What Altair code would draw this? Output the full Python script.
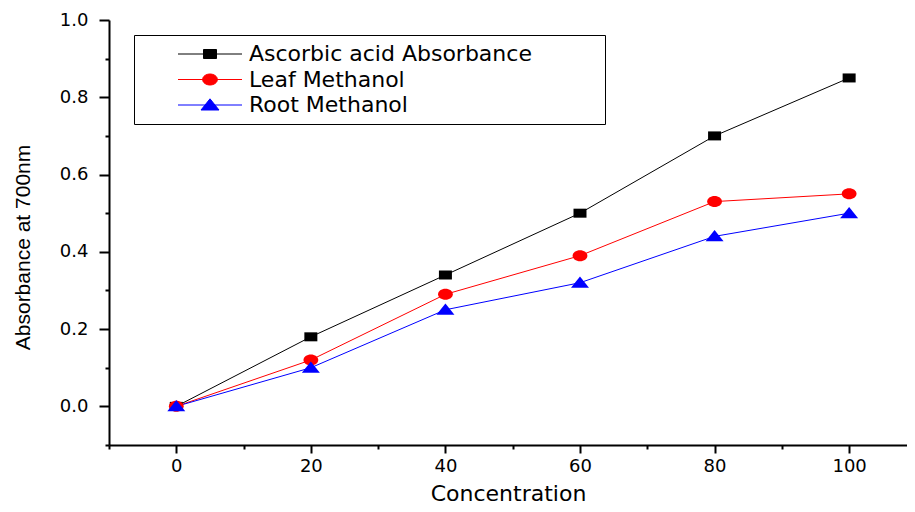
import altair as alt
import pandas as pd

concentration = [0, 20, 40, 60, 80, 100]
ascorbic = [0.0, 0.18, 0.34, 0.50, 0.70, 0.85]
leaf = [0.0, 0.12, 0.29, 0.39, 0.53, 0.55]
root = [0.0, 0.10, 0.25, 0.32, 0.44, 0.50]
series_names = ["Ascorbic acid Absorbance", "Leaf Methanol", "Root Methanol"]
series_colors = ["#000000", "#ff0000", "#0000ff"]
x_ticks = [-10, 0, 10, 20, 30, 40, 50, 60, 70, 80, 90, 100]
y_ticks = [-0.1, 0.0, 0.1, 0.2, 0.3, 0.4, 0.5, 0.6, 0.7, 0.8, 0.9, 1.0]

rows = []
for name, vals in zip(series_names, [ascorbic, leaf, root]):
    for c, v in zip(concentration, vals):
        rows.append({"series": name, "Concentration": c, "Absorbance": v, "order": series_names.index(name)})
df = pd.DataFrame(rows)

# plot markers (slightly wide, as in the reference)
marker_paths = [
    "M-1.3,-0.9H1.3V0.9H-1.3Z",
    "M-1.48,0A1.48,1.1 0 1,0 1.48,0A1.48,1.1 0 1,0 -1.48,0Z",
    "M0,-1.25L1.8,1.0L-1.8,1.0Z",
]
# legend symbols: line + marker
legend_paths = [
    "M-3.2,0H3.2M-0.65,-0.45H0.65V0.45H-0.65Z",
    "M-3.2,0H3.2M-0.74,0A0.74,0.55 0 1,0 0.74,0A0.74,0.55 0 1,0 -0.74,0Z",
    "M-3.2,0H3.2M0,-0.62L0.9,0.5L-0.9,0.5Z",
]

x_enc = alt.X(
    "Concentration:Q",
    scale=alt.Scale(domain=[-10, 108.6], nice=False, zero=False),
    axis=alt.Axis(
        values=x_ticks,
        title="Concentration",
        titleFont="DejaVu Sans",
        titleFontSize=22,
        titleFontWeight="normal",
        titleColor="black",
        titlePadding=8,
        labelFont="DejaVu Sans",
        labelFontSize=18,
        labelColor="black",
        labelPadding=4,
        labelExpr="datum.value % 20 == 0 ? datum.label : ''",
        labelFlush=False,
        labelOverlap=False,
        tickSize={"condition": {"test": "datum.value % 20 == 0", "value": 8}, "value": 4},
        tickWidth=2,
        tickColor="black",
        domainColor="black",
        domainWidth=2,
        grid=False,
    ),
)
y_enc = alt.Y(
    "Absorbance:Q",
    scale=alt.Scale(domain=[-0.1, 1.0], nice=False, zero=False),
    axis=alt.Axis(
        values=y_ticks,
        title="Absorbance at 700nm",
        titleFont="Liberation Sans",
        titleFontSize=21,
        titleFontWeight="normal",
        titleColor="black",
        titlePadding=26,
        titleY=227,
        labelFont="DejaVu Sans",
        labelFontSize=18,
        labelColor="black",
        labelPadding=11,
        labelExpr="abs(round(datum.value*10)) % 2 == 0 ? format(datum.value, '.1f') : ''",
        labelFlush=False,
        labelOverlap=False,
        tickSize={"condition": {"test": "abs(round(datum.value*10)) % 2 == 0", "value": 10}, "value": 4},
        tickWidth=2,
        tickColor="black",
        domainColor="black",
        domainWidth=2,
        grid=False,
    ),
)

color_scale = alt.Scale(domain=series_names, range=series_colors)

lines = alt.Chart(df).mark_line(strokeWidth=1).encode(
    x=x_enc,
    y=y_enc,
    color=alt.Color("series:N", scale=color_scale, legend=None),
    detail="series:N",
)

points = alt.Chart(df).mark_point(filled=True, opacity=1, size=100).encode(
    x=x_enc,
    y=y_enc,
    color=alt.Color("series:N", scale=color_scale, legend=None),
    shape=alt.Shape("series:N", scale=alt.Scale(domain=series_names, range=marker_paths), legend=None),
    order="order:Q",
)

leg = alt.Legend(
    title=None,
    orient="none",
    legendX=25,
    legendY=15,
    padding=8,
    strokeColor="black",
    fillColor="white",
    symbolSize=400,
    symbolStrokeWidth=1,
    symbolOffset=57,
    labelOffset=28,
    labelFont="DejaVu Sans",
    labelFontSize=22,
    labelColor="black",
    labelLimit=1000,
    rowPadding=3.5,
    labelExpr="datum.label + '\u2800\u2800\u2800\u2800'",
)

legend_layer = alt.Chart(df).mark_point(filled=True, opacity=1).encode(
    x=x_enc,
    y=y_enc,
    fill=alt.Fill("series:N", scale=alt.Scale(domain=series_names, range=series_colors), legend=leg),
    stroke=alt.Stroke("series:N", scale=alt.Scale(domain=series_names, range=series_colors), legend=leg),
    shape=alt.Shape("series:N", scale=alt.Scale(domain=series_names, range=legend_paths), legend=leg),
).transform_filter("false")

chart = alt.layer(lines, points, legend_layer).resolve_scale(
    shape="independent", fill="independent", stroke="independent"
).properties(
    width=798,
    height=425,
    autosize=alt.AutoSizeParams(type="none"),
    padding={"left": 101, "top": 12, "right": 0, "bottom": 59},
    background="white",
).configure_view(stroke=None)

chart.save("out.html", embed_options={"renderer": "svg", "actions": False})
